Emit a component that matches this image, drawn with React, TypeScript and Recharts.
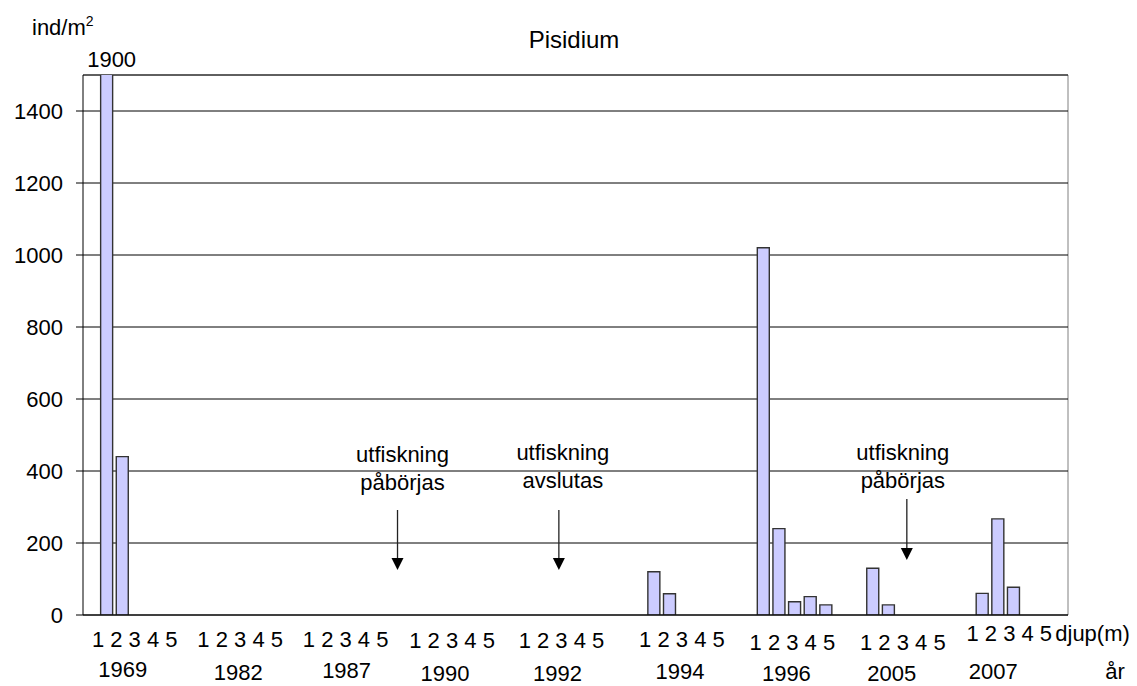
import React from 'react';
import { BarChart, Bar, XAxis, YAxis, CartesianGrid, ReferenceDot, LabelList } from 'recharts';

const FONT = '"Liberation Sans", Arial, sans-serif';

// sampling years and depths (m)
const years = ['1969', '1982', '1987', '1990', '1992', '1994', '1996', '2005', '2007'];
const depths = ['1', '2', '3', '4', '5'];

// Pisidium, ind/m2 at depth 1-5 m
const v1969 = [1900, 440, 0, 0, 0];
const v1982 = [0, 0, 0, 0, 0];
const v1987 = [0, 0, 0, 0, 0];
const v1990 = [0, 0, 0, 0, 0];
const v1992 = [0, 0, 0, 0, 0];
const v1994 = [120, 59, 0, 0, 0];
const v1996 = [1020, 240, 37, 51, 28];
const v2005 = [130, 28, 0, 0, 0];
const v2007 = [60, 267, 77, 0, 0];
const valuesByYear = [v1969, v1982, v1987, v1990, v1992, v1994, v1996, v2005, v2007];

const yTicks = [0, 200, 400, 600, 800, 1000, 1200, 1400];
const Y_MAX = 1500;

// arrows: slot inside a year group (0 and 6 are the empty slots), tip value
const notes = [
  { year: '1987', slot: 6, tip: 125, lines: ['utfiskning', 'påbörjas'] },
  { year: '1992', slot: 2, tip: 125, lines: ['utfiskning', 'avslutas'] },
  { year: '2005', slot: 3, tip: 153, lines: ['utfiskning', 'påbörjas'] },
];

// hand placed text in the original, small nudges per group
const noteLayout = [
  { dx: -6, textDx: 5, shaft: 60, gap: 20 },
  { dx: -1, textDx: 4, shaft: 60, gap: 22 },
  { dx: 3, textDx: -4, shaft: 61, gap: 11 },
];
const depthRowDx = [-3, -7, -11, -14, -14, -3, -2, -1, -4];
const depthRowY = [647, 647, 647, 648, 648, 647, 650, 650, 641];
const yearDx = [-15, -9, -10, -21, -18, -5, -8, -12, -20];
const yearY = [677, 680, 678, 681, 681, 679, 681, 681, 679];

const SLOTS = 7;
const rows = years.flatMap((year, yi) =>
  Array.from({ length: SLOTS }, (_, s) => ({
    key: `${year}-${s}`,
    yearIndex: yi,
    slot: s,
    value: s >= 1 && s <= depths.length ? valuesByYear[yi][s - 1] : null,
  }))
);
const rowByKey = new Map(rows.map((r) => [r.key, r]));

function GroupTick(props: any) {
  const { x, payload } = props;
  const row = rowByKey.get(payload.value);
  if (!row || row.slot !== 3) return null;
  const yi = row.yearIndex;
  const last = yi === years.length - 1;
  const cx = x + depthRowDx[yi];
  return (
    <g fontFamily={FONT} fontSize={22} fill="#000">
      <text x={cx} y={depthRowY[yi]} textAnchor="middle">{depths.join(' ')}</text>
      <text x={x + yearDx[yi]} y={yearY[yi]} textAnchor="middle">{years[yi]}</text>
      {last && (
        <>
          <text x={cx + 46} y={depthRowY[yi]} textAnchor="start">djup(m)</text>
          <text x={x + 92} y={yearY[yi]} textAnchor="start">år</text>
        </>
      )}
    </g>
  );
}

function OverflowLabel(props: any) {
  const { x, y, width, height, value } = props;
  if (value == null || value <= Y_MAX) return null;
  const bottom = y + height;
  const top = bottom - (height * Y_MAX) / value;
  return (
    <text x={x + width / 2 + 5} y={top - 8} textAnchor="middle" fontFamily={FONT} fontSize={22} fill="#000">
      {value}
    </text>
  );
}

function ArrowNote({ cx, cy, i }: { cx: number; cy: number; i: number }) {
  const n = notes[i];
  const l = noteLayout[i];
  const ax = cx + l.dx;
  const top = cy - l.shaft;
  return (
    <g fontFamily={FONT} fontSize={22} fill="#000">
      <line x1={ax} y1={top} x2={ax} y2={cy - 11} stroke="#222" strokeWidth={1.3} />
      <polygon points={`${ax - 6},${cy - 12} ${ax + 6},${cy - 12} ${ax},${cy}`} fill="#000" />
      <text x={ax + l.textDx} y={top - l.gap - 28} textAnchor="middle">{n.lines[0]}</text>
      <text x={ax + l.textDx} y={top - l.gap} textAnchor="middle">{n.lines[1]}</text>
    </g>
  );
}

export default function App() {
  return (
    <div style={{ position: 'absolute', left: 0, top: 0, width: 1137, height: 686, background: '#fff' }}>
      <svg width={1137} height={686} style={{ position: 'absolute', left: 0, top: 0 }}>
        <line x1={83} y1={75} x2={1068} y2={75} stroke="#808080" />
        <line x1={1068} y1={75} x2={1068} y2={615} stroke="#808080" />
        <text x={574} y={48} textAnchor="middle" fontFamily={FONT} fontSize={24} fill="#000">
          Pisidium
        </text>
        <text x={32} y={35} fontFamily={FONT} fontSize={22} fill="#000">
          ind/m
          <tspan dy={-9} fontSize={14}>2</tspan>
        </text>
      </svg>
      <div style={{ position: 'absolute', left: 0, top: 0 }}>
        <BarChart
          width={1137}
          height={686}
          data={rows}
          margin={{ top: 75, right: 69, bottom: 0, left: 0 }}
          barSize={12}
        >
          <CartesianGrid vertical={false} stroke="#000" />
          <XAxis
            dataKey="key"
            type="category"
            height={71}
            interval={0}
            tickSize={0}
            tickMargin={0}
            tickLine={false}
            axisLine={{ stroke: '#000' }}
            tick={<GroupTick />}
          />
          <YAxis
            domain={[0, Y_MAX]}
            ticks={yTicks}
            allowDataOverflow
            interval={0}
            width={83}
            tickSize={7}
            tickMargin={13}
            axisLine={{ stroke: '#000' }}
            tickLine={{ stroke: '#000' }}
            tick={{ fill: '#000', fontSize: 22, fontFamily: FONT }}
          />
          <Bar dataKey="value" fill="#ccccff" stroke="#333" strokeWidth={1.4} isAnimationActive={false}>
            <LabelList dataKey="value" content={<OverflowLabel />} />
          </Bar>
          {notes.map((n, i) => (
            <ReferenceDot
              key={i}
              x={`${n.year}-${n.slot}`}
              y={n.tip}
              r={0}
              shape={(p: any) => <ArrowNote cx={p.cx} cy={p.cy} i={i} />}
            />
          ))}
        </BarChart>
      </div>
    </div>
  );
}
